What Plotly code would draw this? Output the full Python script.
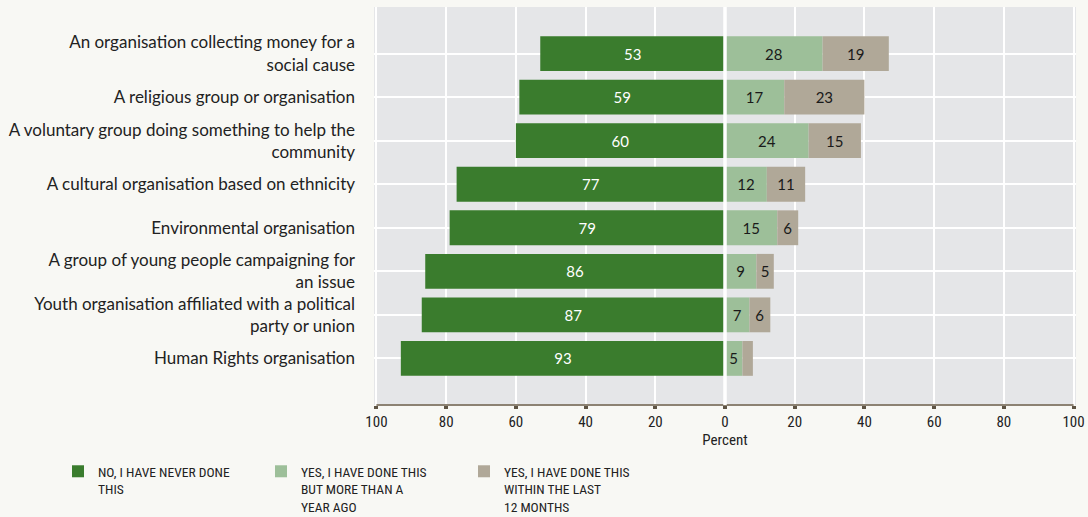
import plotly.graph_objects as go

categories = [
    "An organisation collecting money for a<br>social cause",
    "A religious group or organisation",
    "A voluntary group doing something to help the<br>community",
    "A cultural organisation based on ethnicity",
    "Environmental organisation",
    "A group of young people campaigning for<br>an issue",
    "Youth organisation affiliated with a political<br>party or union",
    "Human Rights organisation",
]
never = [53, 59, 60, 77, 79, 86, 87, 93]
more_than_year = [28, 17, 24, 12, 15, 9, 7, 5]
last_12_months = [19, 23, 15, 11, 6, 5, 6, 3]

series_names = [
    "NO, I HAVE NEVER DONE<br>THIS",
    "YES, I HAVE DONE THIS<br>BUT MORE THAN A<br>YEAR AGO",
    "YES, I HAVE DONE THIS<br>WITHIN THE LAST<br>12 MONTHS",
]
tick_vals = [-100, -80, -60, -40, -20, 0, 20, 40, 60, 80, 100]
tick_text = ["100", "80", "60", "40", "20", "0", "20", "40", "60", "80", "100"]

C_DARK = "#3a7c2d"
C_LIGHT = "#9dbf99"
C_TAUPE = "#b0a898"
LABEL_FONT = "Lato"
NARROW = "Roboto Condensed, DejaVu Sans Condensed, Roboto, sans-serif"

W, H = 1088, 517

def lbl(vals):
    return [str(v) if v >= 5 else "" for v in vals]

fig = go.Figure()
fig.add_trace(go.Bar(
    y=categories, x=[-v for v in never], orientation="h", name=series_names[0],
    marker=dict(color=C_DARK, line=dict(width=0)),
    text=lbl(never), textposition="inside", insidetextanchor="middle",
    textfont=dict(color="white", size=15, family=LABEL_FONT),
    hoverinfo="skip",
))
fig.add_trace(go.Bar(
    y=categories, x=more_than_year, orientation="h", name=series_names[1],
    marker=dict(color=C_LIGHT, line=dict(width=0)),
    text=lbl(more_than_year), textposition="inside", insidetextanchor="middle",
    textfont=dict(color="#1a1a1a", size=15, family=LABEL_FONT),
    hoverinfo="skip",
))
fig.add_trace(go.Bar(
    y=categories, x=last_12_months, orientation="h", name=series_names[2],
    marker=dict(color=C_TAUPE, line=dict(width=0)),
    text=lbl(last_12_months), textposition="inside", insidetextanchor="middle",
    textfont=dict(color="#1a1a1a", size=15, family=LABEL_FONT),
    hoverinfo="skip",
))

fig.update_layout(
    width=W, height=H,
    barmode="relative", bargap=0.2,
    paper_bgcolor="#f8f8f4", plot_bgcolor="#e5e6e8",
    margin=dict(l=374, r=12, t=7, b=112, autoexpand=False),
    font=dict(family=LABEL_FONT, color="#222222", size=15),
    uniformtext=dict(minsize=13, mode="show"),
    xaxis=dict(
        range=[-100.7, 100.7], tickvals=tick_vals, ticktext=tick_text,
        showgrid=True, gridcolor="white", gridwidth=2, zeroline=False,
        showline=False, ticks="outside", ticklen=3, tickwidth=4, tickcolor="#5e5444",
        tickfont=dict(family=NARROW, size=15, color="#222222"),
        title=dict(text="Percent", font=dict(family=NARROW, size=15, color="#222222"), standoff=4),
        fixedrange=True,
    ),
    yaxis=dict(
        categoryorder="array", categoryarray=categories,
        range=[7 + 1.07, -1.07],
        showgrid=True, gridcolor="white", gridwidth=2, zeroline=False,
        showline=False, ticks="", ticklabelstandoff=18,
        tickfont=dict(family=LABEL_FONT, size=17, color="#222222"),
        fixedrange=True,
    ),
    legend=dict(
        orientation="h", xref="container", yref="container",
        x=58 / W, y=1 - 456 / H, xanchor="left", yanchor="top",
        entrywidth=158, entrywidthmode="pixels", valign="top",
        font=dict(family=NARROW, size=13.5, color="#222222"),
        bgcolor="rgba(0,0,0,0)", traceorder="normal",
    ),
    showlegend=True,
    shapes=[
        dict(type="line", xref="x", yref="paper", x0=-100, x1=100, y0=0, y1=0,
             line=dict(color="#8c8273", width=2), layer="above"),
        dict(type="line", xref="x", yref="paper", x0=0, x1=0, y0=0, y1=1,
             line=dict(color="white", width=3.5), layer="above"),
    ],
)

fig.write_html(
    "out.html",
    config={"displayModeBar": False},
    post_script="document.body.style.margin='0';document.body.style.overflow='hidden';",
)
